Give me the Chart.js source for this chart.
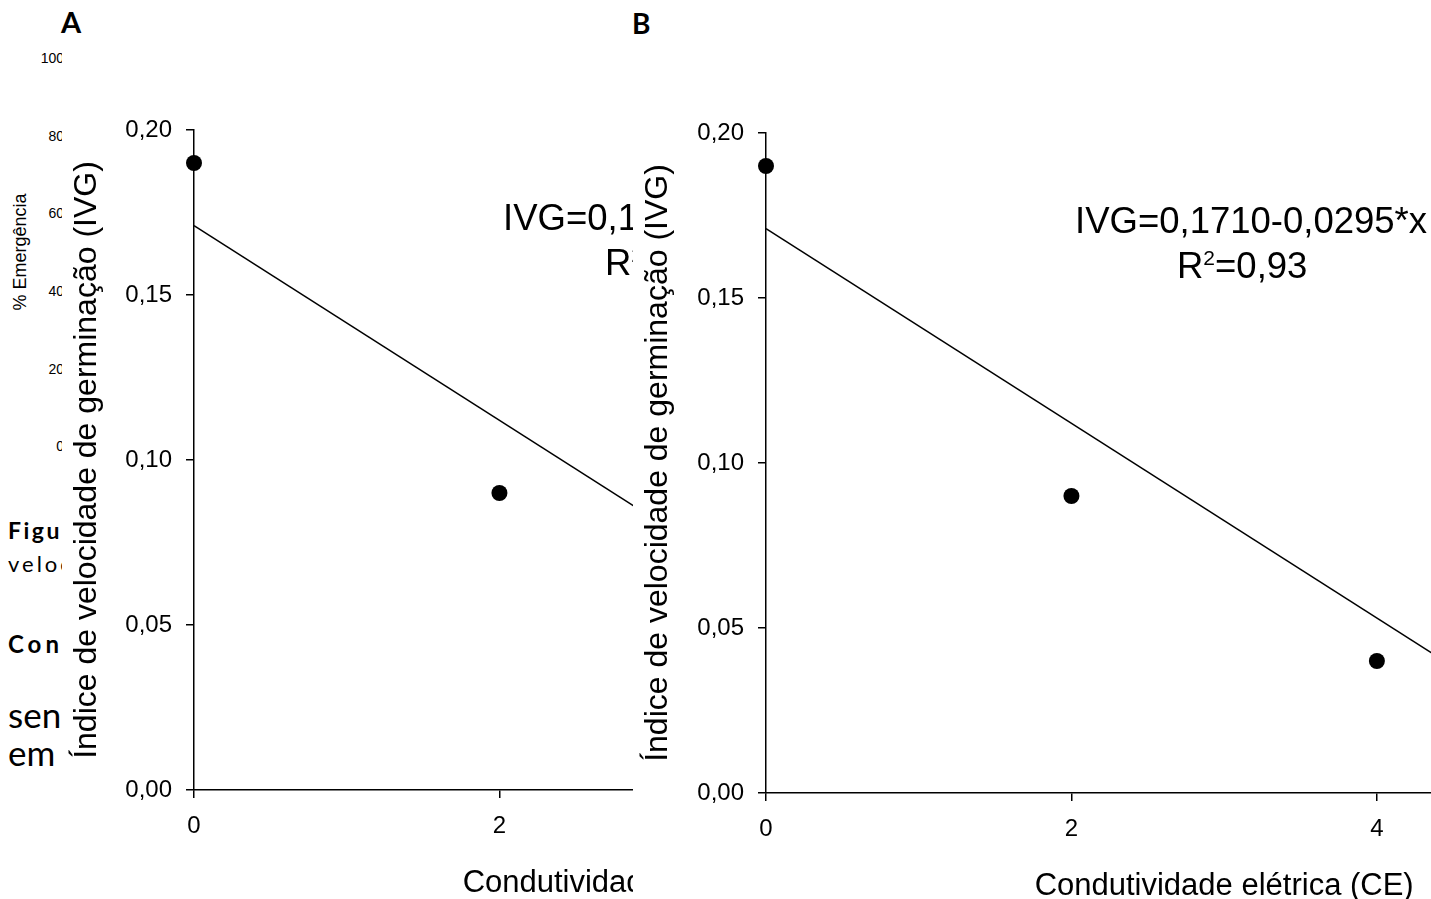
<!DOCTYPE html>
<html><head><meta charset="utf-8">
<script src="https://cdn.jsdelivr.net/npm/chart.js@4.4.1/dist/chart.umd.min.js"></script>
<style>
html,body{margin:0;padding:0;width:1431px;height:899px;overflow:hidden;background:#fff;position:relative}
.t{position:absolute;white-space:nowrap;color:#000;line-height:1;margin:0}
.doc{font-family:Lato,'Open Sans',sans-serif}
.ar{font-family:'Liberation Sans',Arial,sans-serif}
.wrap{position:absolute;background:#fff;overflow:hidden}
canvas{display:block;background:#fff}
</style></head>
<body>
<div class="t doc" style="left:8px;top:519px;font-size:23px;font-weight:700;letter-spacing:2.5px;z-index:1">Figura</div>
<div class="t doc" style="left:8px;top:553px;font-size:22px;letter-spacing:3px;z-index:1">velocidade</div>
<div class="t doc" style="left:8px;top:632px;font-size:24px;font-weight:700;letter-spacing:4px;z-index:1">Conclusões</div>
<div class="t doc" style="left:8px;top:697px;font-size:35px;z-index:1">sensível</div>
<div class="t doc" style="left:8px;top:735px;font-size:35px;z-index:1">em</div>
<div id="bgticks"></div>
<div class="t ar" style="left:20px;top:252px;font-size:18px;transform:translate(-50%,-50%) rotate(-90deg);z-index:1">% Emergência</div>

<div class="wrap" style="left:62px;top:40px;width:1069px;height:860px;z-index:2"><canvas id="chartA" width="1069" height="860"></canvas></div>
<div class="wrap" style="left:633px;top:43px;width:1070px;height:860px;z-index:3"><canvas id="chartB" width="1070" height="860"></canvas></div>

<div class="t doc" style="left:61px;top:7px;font-size:29px;font-weight:700;z-index:5">A</div>
<div class="t doc" style="left:632px;top:9px;font-size:28px;font-weight:700;z-index:5">B</div>

<script>
// ---- data ----
const ceValues = [0, 2, 4];
const ivgValues = [0.19, 0.09, 0.04];
const fitX = [0, 5];
const fitY = [0.171, 0.0235];
const yTickLabels = ['0,00', '0,05', '0,10', '0,15', '0,20'];
const xTickLabels = ['0', '2', '4', '6'];
const yTitle = 'Índice de velocidade de germinação (IVG)';
const xTitle = 'Condutividade elétrica (CE)';
const eqLine1 = 'IVG=0,1710-0,0295*x';
const eqR2Label = 'R';
const eqR2Sup = '2';
const eqR2Value = '=0,93';
const bgTickLabels = ['100', '80', '60', '40', '20', '0'];
const bgTickCenters = [58, 136, 213, 291, 369, 446];

// background (hidden figure) tick labels
const bg = document.getElementById('bgticks');
bgTickLabels.forEach((lab, i) => {
  const d = document.createElement('div');
  d.className = 't ar';
  d.style.cssText = 'right:' + (1431 - 64) + 'px;top:' + (bgTickCenters[i] - 7) + 'px;font-size:14px;z-index:1';
  d.textContent = lab;
  bg.appendChild(d);
});

const FAM = "'Liberation Sans', Arial, sans-serif";

const eqPlugin = {
  id: 'eq',
  afterDraw(chart) {
    const {ctx, chartArea: a} = chart;
    ctx.save();
    ctx.fillStyle = '#000';
    ctx.textBaseline = 'alphabetic';
    ctx.textAlign = 'left';
    ctx.font = '36.5px ' + FAM;
    ctx.fillText(eqLine1, a.left + 309, a.top + 100);
    let x = a.left + 411;
    const base = a.top + 145;
    ctx.fillText(eqR2Label, x, base);
    x += ctx.measureText(eqR2Label).width;
    ctx.font = '21px ' + FAM;
    ctx.fillText(eqR2Sup, x, base - 13);
    x += ctx.measureText(eqR2Sup).width;
    ctx.font = '36.5px ' + FAM;
    ctx.fillText(eqR2Value, x, base);
    ctx.restore();
  }
};

function makeChart(id, yW) {
  return new Chart(document.getElementById(id), {
    type: 'scatter',
    data: {
      datasets: [
        {
          data: ceValues.map((x, i) => ({x: x, y: ivgValues[i]})),
          pointRadius: 8, pointBackgroundColor: '#000', pointBorderColor: '#000',
          pointBorderWidth: 0, showLine: false, clip: false
        },
        {
          data: fitX.map((x, i) => ({x: x, y: fitY[i]})),
          showLine: true, pointRadius: 0, borderColor: '#000', borderWidth: 1.5, clip: false
        }
      ]
    },
    options: {
      responsive: false, animation: false, devicePixelRatio: 1,
      layout: {padding: {top: 90, left: 0, right: 0, bottom: 0}},
      plugins: {legend: {display: false}, tooltip: {enabled: false}},
      scales: {
        x: {
          type: 'linear', min: 0, max: 6,
          afterFit(s) { s.height = 110; },
          ticks: {stepSize: 2, padding: 14, color: '#000', font: {family: FAM, size: 24},
                  maxRotation: 0, callback: (v) => xTickLabels[Math.round(v / 2)]},
          grid: {drawOnChartArea: false, drawTicks: true, tickLength: 8, color: '#000', lineWidth: 1.5},
          border: {color: '#000', width: 1.5},
          title: {display: true, text: xTitle, color: '#000', font: {family: FAM, size: 31},
                  padding: {top: 0, bottom: -2}}
        },
        y: {
          type: 'linear', min: 0, max: 0.2,
          afterFit(s) { s.width = yW; },
          ticks: {stepSize: 0.05, padding: 14, color: '#000', font: {family: FAM, size: 24},
                  callback: (v, i) => yTickLabels[i]},
          grid: {drawOnChartArea: false, drawTicks: true, tickLength: 8, color: '#000', lineWidth: 1.5},
          border: {color: '#000', width: 1.5},
          title: {display: true, text: yTitle, color: '#000', font: {family: FAM, size: 32},
                  padding: {top: 6, bottom: 0}}
        }
      }
    },
    plugins: [eqPlugin]
  });
}

makeChart('chartA', 132);
makeChart('chartB', 133);
</script>
</body></html>
